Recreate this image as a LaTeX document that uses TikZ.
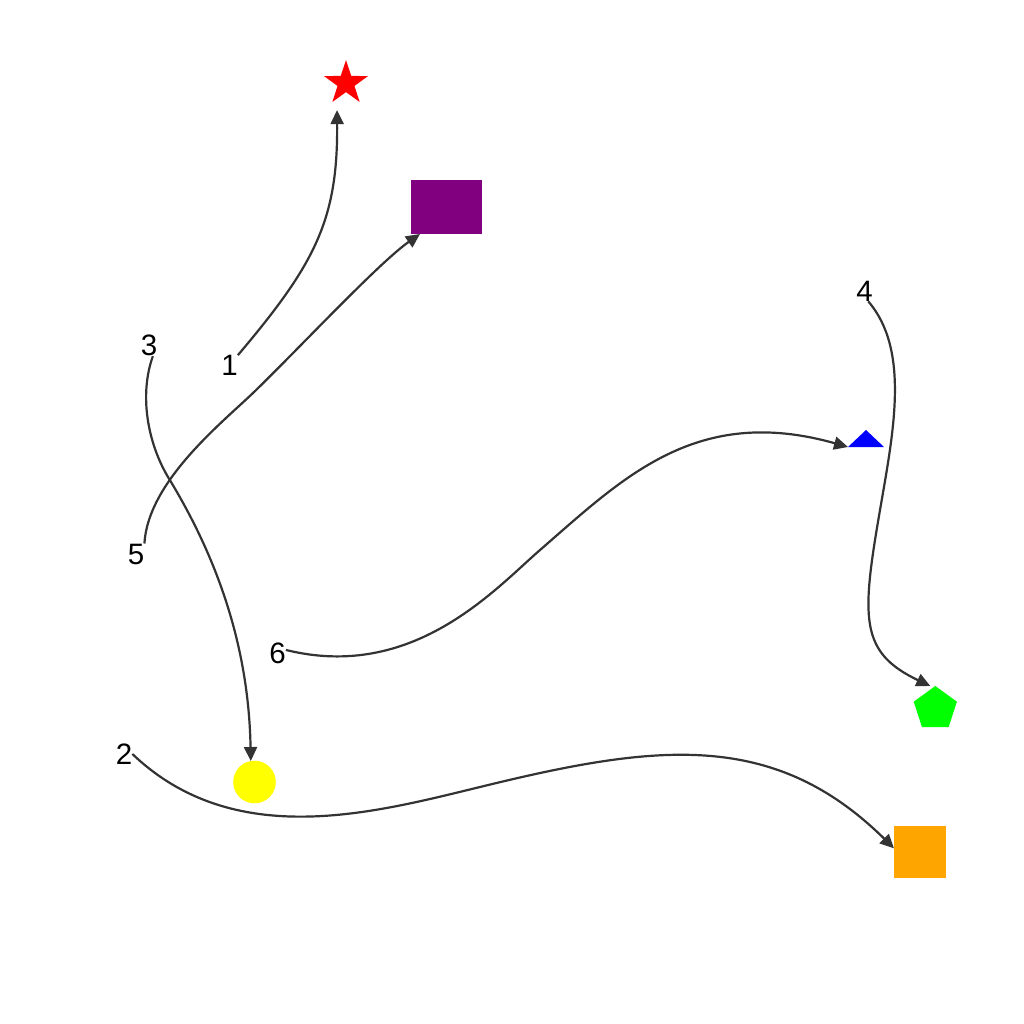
\documentclass[tikz,border=0pt]{standalone}
\usepackage{fontspec}
\setmainfont{Liberation Sans}
\usepackage{tikz}
\usetikzlibrary{shapes.geometric,arrows.meta}

\definecolor{linegray}{HTML}{333333}
\definecolor{mred}{HTML}{FF0000}
\definecolor{mpurple}{HTML}{800080}
\definecolor{mblue}{HTML}{0000FF}
\definecolor{mgreen}{HTML}{00FF00}
\definecolor{morange}{HTML}{FFA500}
\definecolor{myellow}{HTML}{FFFF00}

\begin{document}
\begin{tikzpicture}[
        x=1pt, y=-1pt,
        >={Triangle[length=14pt,width=13pt]},
        numlabel/.style={inner sep=0pt, font=\fontsize{29.5}{34}\selectfont},
        shapebox/.style={inner sep=0pt, outer sep=0pt, draw=none},
        link/.style={->, draw=linegray, line width=2.2pt}
        ]
        \useasboundingbox (0,0) rectangle (1024,1024);

        \node[numlabel] (n1) at (229.5,365.5) {1};
        \node[numlabel] (n2) at (124,754) {2};
        \node[numlabel] (n3) at (149,345.5) {3};
        \node[numlabel] (n4) at (864.5,291) {4};
        \node[numlabel] (n5) at (136,554) {5};
        \node[numlabel] (n6) at (277.5,653) {6};

        \node[shapebox, star, star points=5, star point ratio=2.6, minimum size=46.4pt, fill=mred] (star) at (346,83.2) {};
        \node[shapebox, rectangle, minimum width=71pt, minimum height=54pt, fill=mpurple] (rect) at (446.5,207) {};
        \node[shapebox, isosceles triangle, isosceles triangle stretches, shape border rotate=90,
              minimum height=17pt, minimum width=36pt, fill=mblue, anchor=lower side] (tri) at (866,447) {};
        \node[shapebox, regular polygon, regular polygon sides=5, minimum size=45.4pt, fill=mgreen] (pent) at (935.3,708.7) {};
        \node[shapebox, rectangle, minimum size=52pt, fill=morange] (sq) at (920,852) {};
        \node[shapebox, circle, minimum size=42.6pt, fill=myellow] (circ) at (254.5,782) {};

        \draw[link] (n1.north east) .. controls (315,264) and (338,220) .. ([shift={(-9,18)}]star.south);
        \draw[link] (n2.east) .. controls (234,851) and (373,813) .. (480,787)
                              .. controls (655,744) and (773,729) .. (sq.172);
        \draw[link] (n3.-70) .. controls (139,395) and (147.6,442.6) .. (168,477)
                             .. controls (225,570) and (249,660) .. (circ.100);
        \draw[link] (n4.-70) .. controls (910,350) and (893.6,431) .. (880,510)
                             .. controls (861.3,618.4) and (859.6,652.4) .. ([xshift=-5pt]pent.corner 1);
        \draw[link] (n5.north east) .. controls (148,482) and (220.6,424) .. (253,393)
                                    .. controls (296,351.6) and (378.5,263) .. ([xshift=9pt]rect.south west);
        \draw[link] (n6.20) .. controls (413,681.5) and (494.7,589.4) .. (540,550)
                            .. controls (623,478) and (696,404) .. (tri.left corner);
\end{tikzpicture}
\end{document}
